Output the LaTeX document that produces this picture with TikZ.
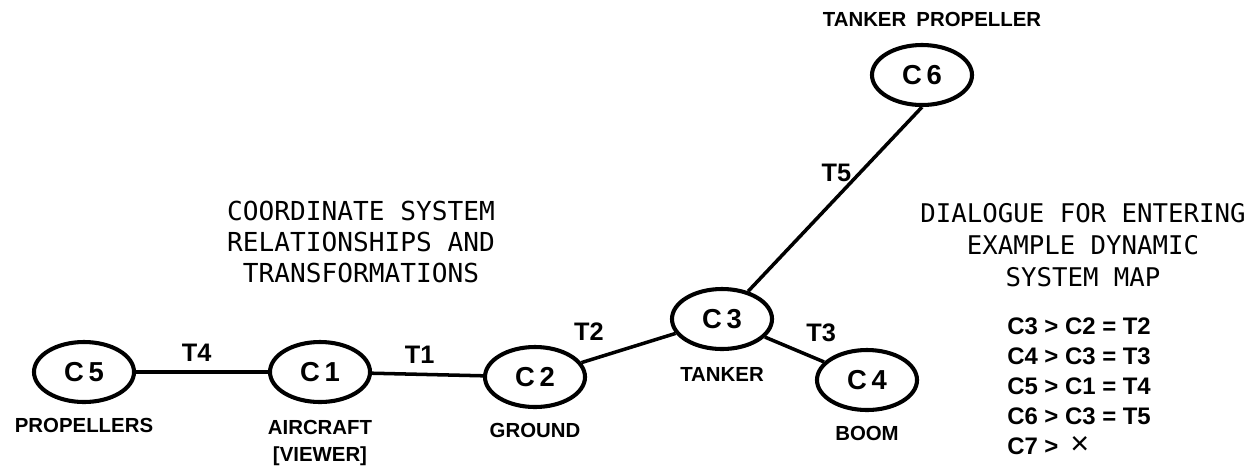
\documentclass[tikz,border=0pt]{standalone}
\usepackage{fontspec}
\setmainfont{Liberation Sans}
\newfontfamily\typefont{DejaVu Sans Mono}
\usetikzlibrary{shapes.geometric, positioning}

\begin{document}
\begin{tikzpicture}[
    x=0.025cm, y=-0.025cm,
    sys/.style={ellipse, draw=black, line width=2.9pt, minimum width=2.5cm, minimum height=1.5cm, inner sep=0pt, font=\fontsize{19.5}{19.5}\selectfont\bfseries},
    caption/.style={inner sep=0pt, align=center, font=\fontsize{14.5}{19}\selectfont\bfseries},
    tlabel/.style={inner sep=1pt, font=\fontsize{18}{18}\selectfont\bfseries},
    link/.style={line width=2.5pt},
    note/.style={align=center, font=\typefont\fontsize{18.6}{22}\selectfont},
    dialog/.style={align=left, inner sep=0pt, font=\fontsize{17}{21.3}\selectfont\bfseries}
]
    \useasboundingbox (0,0) rectangle (1256,470);

    % Coordinate systems
    \node[sys] (c5) at (84,372) {C\,5};
    \node[sys] (c1) at (320,372) {C\,1};
    \node[sys] (c2) at (535,377) {C\,2};
    \node[sys] (c3) at (722,319) {C\,3};
    \node[sys] (c4) at (867,380) {C\,4};
    \node[sys] (c6) at (922,75) {C\,6};

    % Names
    \node[caption, below=0.36cm of c5] (propellers) {PROPELLERS};
    \node[caption, below=0.4cm of c1] (aircraft) {AIRCRAFT\\{[VIEWER]}};
    \node[caption, below=0.35cm of c2] (ground) {GROUND};
    \node[caption, below=0.4cm of c3] (tanker) {TANKER};
    \node[caption, below=0.34cm of c4] (boom) {BOOM};
    \node[caption, above=0.4cm of c6, xshift=0.25cm] (tankprop) {TANKER\enspace PROPELLER};

    % Transformations
    \draw[link] (c5) -- node[tlabel, pos=0.46, above=0.18cm] {T4} (c1);
    \draw[link] (c1) -- node[tlabel, pos=0.43, above=0.18cm] {T1} (c2);
    \draw[link] (c2) -- node[tlabel, pos=0.08, above=0.42cm] {T2} (c3);
    \draw[link] (c3) -- node[tlabel, pos=0.95, above=0.4cm] {T3} (c4);
    \draw[link] (c3) -- node[tlabel, pos=0.645, left=0.15cm] {T5} (c6.south);

    % Notes
    \node[note] (title) at (361,242) {COORDINATE SYSTEM\\RELATIONSHIPS AND\\TRANSFORMATIONS};
    \node[note, font=\typefont\fontsize{18.3}{23}\selectfont] (dlghead) at (1083,245) {DIALOGUE FOR ENTERING\\EXAMPLE DYNAMIC\\SYSTEM MAP};
    \node[dialog, anchor=west] (dlg) at (1007,386) {C3 > C2 = T2\\C4 > C3 = T3\\C5 > C1 = T4\\C6 > C3 = T5\\C7 >\enspace{\mdseries\fontsize{23}{21.3}\selectfont ×}};

\end{tikzpicture}
\end{document}
